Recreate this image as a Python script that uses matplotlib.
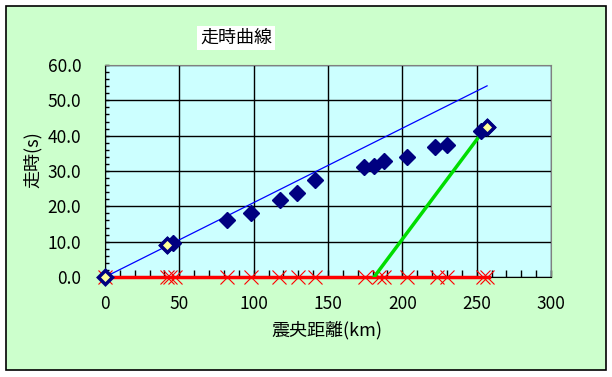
import matplotlib
matplotlib.use('Agg')
import matplotlib.pyplot as plt
from matplotlib.patches import Rectangle
from matplotlib.ticker import MultipleLocator, FormatStrFormatter

plt.rcParams['font.family'] = ['Noto Sans CJK JP', 'DejaVu Sans']

# 観測点データ（震央距離 km, 走時 s）
dist = [42, 46, 82, 98, 118, 129, 141, 174, 181, 188, 203, 222, 230, 253, 257]
ttime = [9.0, 9.7, 16.1, 18.1, 21.7, 23.7, 27.4, 31.1, 31.4, 32.8, 33.9, 36.8, 37.5, 41.2, 42.4]

# 特別な点（中が黄色）
mark_x = [0, 42, 257]
mark_y = [0.0, 9.0, 42.4]

# 震央距離の位置（x軸上の×印）
cross_x = [0, 42, 44, 47, 82, 98, 117, 130, 141, 175, 184, 188, 203, 223, 230, 254, 257]

# 直線
blue_x = [0, 257]
blue_y = [0.0, 54.1]
green_x = [181, 257]
green_y = [0.0, 42.8]

fig = plt.figure(figsize=(6.12, 3.77), dpi=100)
fig.patch.set_facecolor('white')
# 外枠
fig.patches.append(Rectangle((6 / 612, 1 - 370 / 377), 600 / 612, 364 / 377,
                             transform=fig.transFigure, facecolor='#CCFFCC',
                             edgecolor='black', linewidth=1.2, zorder=-10))

ax = fig.add_axes([105 / 612, 1 - 277 / 377, 446 / 612, 212 / 377])
ax.set_zorder(1)
ax.set_facecolor('#CCFFFF')
ax.set_xlim(0, 300)
ax.set_ylim(0, 60)

ax.xaxis.set_major_locator(MultipleLocator(50))
ax.xaxis.set_minor_locator(MultipleLocator(10))
ax.yaxis.set_major_locator(MultipleLocator(10))
ax.yaxis.set_minor_locator(MultipleLocator(2))
ax.yaxis.set_major_formatter(FormatStrFormatter('%.1f'))
ax.grid(True, which='major', color='black', linewidth=1)
ax.set_axisbelow(True)

ax.tick_params(axis='x', which='both', direction='in', length=5, width=1,
               labelsize=12.5, pad=13)
ax.tick_params(axis='y', which='both', direction='in', length=3, width=1,
               labelsize=12.5, pad=17)

for s in ['top', 'right']:
    ax.spines[s].set_color('#808080')
for s in ['left', 'bottom']:
    ax.spines[s].set_color('black')

# 直線
ax.plot(blue_x, blue_y, color='#0000FF', linewidth=0.9, zorder=3)
ax.plot([0, 258], [0, 0], color='#FF0000', linewidth=2.5, zorder=3, clip_on=False)
ax.plot(cross_x, [0] * len(cross_x), linestyle='none', marker='x', color='#FF0000',
        markersize=10, markeredgewidth=0.8, zorder=4, clip_on=False)
ax.plot(green_x, green_y, color='#00DD00', linewidth=2.5, zorder=5)

# 観測値
ax.plot(dist, ttime, linestyle='none', marker='D', color='#000080',
        markersize=8, zorder=6)
ax.plot(mark_x, mark_y, linestyle='none', marker='D', markerfacecolor='#FFFF99',
        markeredgecolor='#000080', markeredgewidth=2.5, markersize=7.5,
        zorder=7, clip_on=False)

fig.text(236 / 612, 1 - 38 / 377, '走時曲線', fontsize=13, ha='center', va='center',
         bbox=dict(facecolor='white', edgecolor='none', pad=2))
fig.text(33 / 612, 1 - 160 / 377, '走時(s)', fontsize=13, rotation=90,
         ha='center', va='center')
fig.text(327 / 612, 1 - 330 / 377, '震央距離(km)', fontsize=13,
         ha='center', va='center')

fig.savefig('out.png', dpi=100)
